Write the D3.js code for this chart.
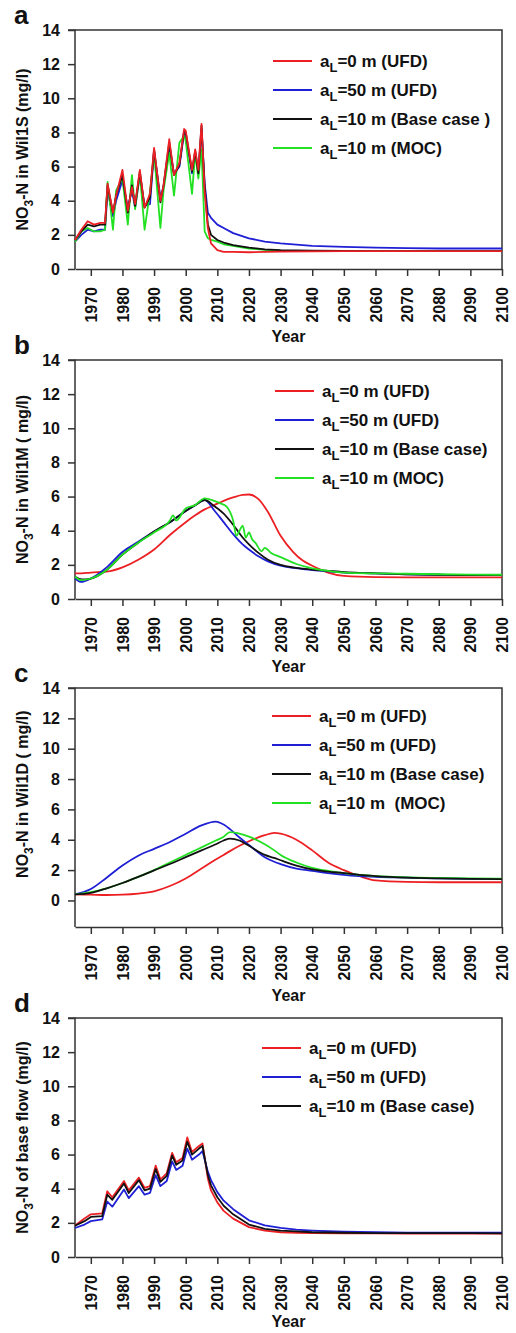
<!DOCTYPE html>
<html>
<head>
<meta charset="utf-8">
<script src="https://cdn.jsdelivr.net/npm/d3@7"></script>
<style>
  body { margin: 0; background: #fff; }
  svg { display: block; }
  text { font-family: "Liberation Sans", Arial, sans-serif; font-weight: bold; fill: #111; }
</style>
</head>
<body>
<div id="chart"></div>
<script>
const width = 516;
const height = 1333;

const xTicks = d3.range(1970, 2101, 10);
const yTicks = d3.range(0, 15, 2);

// panel a - Wil1S
const yearsA = [1965, 1967, 1969, 1971, 1973, 1974.5, 1975.3, 1977, 1978, 1980, 1981.7, 1983, 1984, 1985.5, 1987, 1988.7, 1990, 1992, 1993, 1994.8, 1996.3, 1998, 1999.5, 2000, 2002, 2003, 2004, 2005, 2006, 2007, 2008, 2010, 2012, 2015, 2020, 2025, 2030, 2040, 2050, 2060, 2070, 2080, 2090, 2100];
const redA   = [1.7, 2.3, 2.8, 2.6, 2.7, 2.7, 5.0, 3.3, 4.3, 5.8, 3.4, 4.8, 3.8, 5.8, 3.6, 4.4, 7.1, 4.0, 4.9, 7.6, 5.5, 6.2, 8.2, 8.1, 5.8, 7.0, 5.8, 8.5, 4.5, 2.4, 1.5, 1.1, 1.0, 1.0, 0.98, 1.0, 1.02, 1.03, 1.05, 1.05, 1.05, 1.05, 1.05, 1.05];
const blueA  = [1.6, 2.0, 2.3, 2.2, 2.3, 2.3, 4.6, 3.1, 4.0, 5.2, 3.6, 4.6, 3.6, 5.5, 3.7, 3.8, 6.9, 4.2, 4.8, 7.2, 5.6, 6.0, 8.0, 7.9, 5.6, 6.8, 5.6, 8.2, 5.0, 3.3, 3.0, 2.6, 2.4, 2.1, 1.8, 1.6, 1.5, 1.35, 1.3, 1.25, 1.22, 1.2, 1.2, 1.2];
const blackA = [1.7, 2.2, 2.6, 2.5, 2.6, 2.6, 4.9, 3.3, 4.3, 5.5, 3.3, 4.9, 3.7, 5.7, 3.6, 4.2, 7.0, 3.9, 4.9, 7.4, 5.5, 6.1, 8.1, 8.0, 5.7, 6.9, 5.6, 8.4, 4.8, 2.6, 2.0, 1.7, 1.55, 1.4, 1.25, 1.15, 1.1, 1.07, 1.06, 1.05, 1.05, 1.05, 1.05, 1.05];
const greenA = [1.6, 2.2, 2.4, 2.2, 2.2, 2.3, 5.1, 2.3, 4.6, 5.3, 2.6, 5.5, 3.5, 5.6, 2.3, 4.5, 6.8, 2.4, 4.6, 6.8, 4.3, 7.4, 7.8, 7.5, 4.4, 6.8, 5.3, 7.0, 2.2, 1.8, 1.7, 1.6, 1.45, 1.35, 1.2, 1.12, 1.08, 1.05, 1.05, 1.05, 1.05, 1.05, 1.05, 1.05];

// panel b - Wil1M
const yearsB = [1965, 1967, 1970, 1975, 1980, 1985, 1990, 1995, 2000, 2003, 2006, 2009, 2012, 2015, 2018, 2020, 2023, 2026, 2030, 2034, 2037, 2040, 2045, 2050, 2060, 2070, 2080, 2090, 2100];
const redB   = [1.5, 1.5, 1.55, 1.6, 1.85, 2.3, 2.9, 3.75, 4.5, 4.9, 5.25, 5.5, 5.75, 5.95, 6.1, 6.12, 5.85, 5.1, 3.7, 2.75, 2.25, 1.95, 1.55, 1.35, 1.28, 1.27, 1.27, 1.27, 1.27];
const blueB  = [1.2, 1.0, 1.2, 1.85, 2.75, 3.35, 3.95, 4.5, 5.15, 5.5, 5.8, 5.2, 4.5, 3.8, 3.2, 2.9, 2.5, 2.2, 1.95, 1.82, 1.75, 1.7, 1.62, 1.55, 1.5, 1.45, 1.42, 1.4, 1.4];
const blackB = [1.3, 1.15, 1.2, 1.7, 2.6, 3.3, 3.95, 4.5, 5.15, 5.5, 5.8, 5.45, 5.0, 4.35, 3.6, 3.2, 2.7, 2.3, 2.0, 1.85, 1.78, 1.72, 1.65, 1.58, 1.5, 1.45, 1.42, 1.4, 1.4];
const greenYearsB = [1965, 1967, 1970, 1975, 1980, 1985, 1990, 1995, 1996, 1997, 2000, 2003, 2006, 2009, 2011, 2013, 2014, 2015, 2016, 2017, 2018, 2019, 2020, 2021, 2022, 2024, 2025, 2027, 2030, 2035, 2040, 2045, 2050, 2060, 2070, 2080, 2090, 2100];
const greenB = [1.3, 1.1, 1.2, 1.7, 2.6, 3.3, 3.9, 4.6, 4.9, 4.6, 5.3, 5.5, 5.9, 5.75, 5.6, 5.4, 5.1, 4.6, 3.7, 4.0, 4.3, 3.6, 3.9, 3.5, 3.3, 2.8, 3.0, 2.7, 2.45, 2.05, 1.8, 1.65, 1.55, 1.5, 1.48, 1.45, 1.43, 1.42];

// panel c - Wil1D
const yearsC = [1965, 1970, 1975, 1980, 1985, 1990, 1995, 2000, 2005, 2009.5, 2012, 2014, 2017, 2020, 2025, 2028, 2030, 2035, 2040, 2045, 2050, 2055, 2060, 2070, 2080, 2090, 2100];
const redC   = [0.4, 0.38, 0.36, 0.38, 0.45, 0.6, 0.95, 1.45, 2.1, 2.7, 3.0, 3.25, 3.6, 3.9, 4.3, 4.45, 4.4, 4.0, 3.3, 2.5, 2.0, 1.6, 1.32, 1.22, 1.2, 1.2, 1.2];
const blueC  = [0.4, 0.75, 1.5, 2.3, 2.95, 3.4, 3.85, 4.4, 4.95, 5.2, 5.0, 4.7, 4.15, 3.65, 2.85, 2.55, 2.4, 2.1, 1.95, 1.8, 1.68, 1.6, 1.55, 1.5, 1.45, 1.42, 1.4];
const blackC = [0.4, 0.5, 0.8, 1.15, 1.55, 1.98, 2.4, 2.85, 3.3, 3.7, 3.95, 4.08, 3.95, 3.6, 3.0, 2.8, 2.65, 2.3, 2.05, 1.9, 1.8, 1.68, 1.6, 1.5, 1.45, 1.42, 1.4];
const greenC = [0.4, 0.55, 0.8, 1.15, 1.55, 2.0, 2.5, 3.0, 3.5, 3.95, 4.2, 4.5, 4.4, 4.2, 3.7, 3.3, 3.0, 2.5, 2.15, 1.95, 1.8, 1.68, 1.6, 1.52, 1.48, 1.45, 1.43];

// panel d - base flow
const yearsD = [1965, 1968, 1970, 1973.6, 1975.2, 1976.8, 1980.5, 1982, 1985.2, 1987, 1988.7, 1990.5, 1992, 1994, 1995.7, 1997, 1999, 2000.5, 2002, 2004.2, 2005.3, 2007, 2008, 2010, 2012, 2015, 2020, 2025, 2030, 2035, 2040, 2050, 2060, 2070, 2080, 2090, 2100];
const redD   = [1.85, 2.25, 2.5, 2.55, 3.85, 3.5, 4.45, 3.9, 4.65, 4.05, 4.15, 5.35, 4.55, 4.9, 6.1, 5.55, 5.8, 7.0, 6.15, 6.5, 6.65, 4.6, 3.9, 3.2, 2.7, 2.25, 1.75, 1.55, 1.45, 1.42, 1.4, 1.38, 1.38, 1.37, 1.37, 1.37, 1.37];
const blueD  = [1.7, 1.9, 2.1, 2.2, 3.25, 2.95, 3.95, 3.45, 4.15, 3.65, 3.75, 4.8, 4.15, 4.45, 5.6, 5.1, 5.35, 6.35, 5.7, 6.0, 6.2, 5.0, 4.5, 3.8, 3.3, 2.8, 2.15, 1.85, 1.7, 1.6, 1.55, 1.48, 1.45, 1.43, 1.42, 1.42, 1.42];
const blackD = [1.83, 2.1, 2.35, 2.4, 3.65, 3.35, 4.3, 3.75, 4.5, 3.9, 4.0, 5.15, 4.4, 4.75, 5.95, 5.4, 5.65, 6.75, 6.0, 6.35, 6.5, 4.8, 4.2, 3.5, 3.0, 2.5, 1.9, 1.65, 1.55, 1.5, 1.45, 1.42, 1.4, 1.4, 1.4, 1.4, 1.38];

const colors = { red: "#ec2024", blue: "#1f1fd6", black: "#111111", green: "#22e022" };

const panels = [
  { letter: "a", label: "in Wil1S (mg/l)", top: 30, yMin: 0, legendX: 273, legendTop: 31, yearGap: 73, curve: d3.curveLinear,
    series: [
      { name: "=0 m (UFD)", color: colors.red, years: yearsA, values: redA },
      { name: "=50 m (UFD)", color: colors.blue, years: yearsA, values: blueA },
      { name: "=10 m (Base case )", color: colors.black, years: yearsA, values: blackA },
      { name: "=10 m (MOC)", color: colors.green, years: yearsA, values: greenA }
    ], order: [1, 3, 2, 0] },
  { letter: "b", label: "in Wil1M ( mg/l)", top: 360, yMin: 0, legendX: 275, legendTop: 31, yearGap: 73, curve: d3.curveMonotoneX,
    series: [
      { name: "=0 m (UFD)", color: colors.red, years: yearsB, values: redB },
      { name: "=50 m (UFD)", color: colors.blue, years: yearsB, values: blueB },
      { name: "=10 m (Base case)", color: colors.black, years: yearsB, values: blackB },
      { name: "=10 m (MOC)", color: colors.green, years: greenYearsB, values: greenB }
    ], order: [0, 1, 2, 3] },
  { letter: "c", label: "in Wil1D ( mg/l)", top: 688, yMin: -1.75, legendX: 272, legendTop: 28, yearGap: 74, curve: d3.curveMonotoneX,
    series: [
      { name: "=0 m (UFD)", color: colors.red, years: yearsC, values: redC },
      { name: "=50 m (UFD)", color: colors.blue, years: yearsC, values: blueC },
      { name: "=10 m (Base case)", color: colors.black, years: yearsC, values: blackC },
      { name: "=10 m \u00a0(MOC)", color: colors.green, years: yearsC, values: greenC }
    ], order: [0, 1, 3, 2] },
  { letter: "d", label: "of base flow (mg/l)", top: 1018, yMin: 0, legendX: 262, legendTop: 30, yearGap: 70, curve: d3.curveLinear,
    series: [
      { name: "=0 m (UFD)", color: colors.red, years: yearsD, values: redD },
      { name: "=50 m (UFD)", color: colors.blue, years: yearsD, values: blueD },
      { name: "=10 m (Base case)", color: colors.black, years: yearsD, values: blackD }
    ], order: [0, 1, 2] }
];

const left = 75;
const right = 502;
const plotHeight = 239;

const svg = d3.select("#chart")
  .append("svg")
  .attr("width", width)
  .attr("height", height);

const x = d3.scaleLinear()
  .domain([1965, 2100])
  .range([left, right]);

panels.forEach(p => {
  const y = d3.scaleLinear()
    .domain([p.yMin, 14])
    .range([p.top + plotHeight, p.top]);

  const g = svg.append("g");
  const bottom = p.top + plotHeight;

  // panel letter
  g.append("text")
    .attr("x", 14)
    .attr("y", p.top - 6)
    .style("font-size", "26px")
    .text(p.letter);

  // frame (top and right)
  g.append("path")
    .attr("d", `M${left},${p.top}H${right}V${bottom}`)
    .attr("fill", "none")
    .attr("stroke", "#333")
    .attr("stroke-width", 1.5);

  const yAxis = g.append("g")
    .attr("transform", `translate(${left},0)`)
    .call(d3.axisLeft(y).tickValues(yTicks).tickSize(7).tickPadding(8).tickFormat(d3.format("d")));

  const xAxis = g.append("g")
    .attr("transform", `translate(0,${bottom})`)
    .call(d3.axisBottom(x).tickValues(xTicks).tickSize(7).tickSizeOuter(0).tickFormat(d3.format("d")));

  [yAxis, xAxis].forEach(a => {
    a.select(".domain").attr("stroke", "#333").attr("stroke-width", 1.5);
    a.selectAll(".tick line").attr("stroke", "#333").attr("stroke-width", 1.5);
    a.selectAll("text").style("font-size", "16px").attr("fill", "#111");
  });
  yAxis.select(".domain").attr("d", `M-7,${y(14)}H0V${bottom}`);

  xAxis.selectAll("text")
    .attr("transform", "rotate(-90)")
    .attr("x", -18)
    .attr("y", 0)
    .attr("dy", "0.35em")
    .style("text-anchor", "end");

  g.append("text")
    .attr("x", (left + right) / 2)
    .attr("y", bottom + p.yearGap)
    .attr("text-anchor", "middle")
    .style("font-size", "16px")
    .text("Year");

  // y label with subscript
  const yl = g.append("text")
    .attr("transform", `translate(28,${y(7)}) rotate(-90)`)
    .attr("text-anchor", "middle")
    .style("font-size", "16px");
  yl.append("tspan").text("NO");
  yl.append("tspan").attr("dy", 5).style("font-size", "12px").text("3");
  yl.append("tspan").attr("dy", -5).text("-N " + p.label);

  // lines
  const line = d3.line()
    .x(d => x(d[0]))
    .y(d => y(d[1]))
    .curve(p.curve);

  p.order.forEach(i => {
    const s = p.series[i];
    g.append("path")
      .datum(s.years.map((yr, k) => [yr, s.values[k]]))
      .attr("fill", "none")
      .attr("stroke", s.color)
      .attr("stroke-width", 1.8)
      .attr("stroke-linejoin", "round")
      .attr("d", line);
  });

  // legend
  p.series.forEach((s, i) => {
    const ly = p.top + p.legendTop + i * 29;
    g.append("line")
      .attr("x1", p.legendX)
      .attr("x2", p.legendX + 39)
      .attr("y1", ly)
      .attr("y2", ly)
      .attr("stroke", s.color)
      .attr("stroke-width", 1.8);
    const t = g.append("text")
      .attr("x", p.legendX + 47)
      .attr("y", ly + 6)
      .style("font-size", "17px")
      .attr("xml:space", "preserve");
    t.append("tspan").text("a");
    t.append("tspan").attr("dy", 5).style("font-size", "13px").text("L");
    t.append("tspan").attr("dy", -5).text(s.name);
  });
});
</script>
</body>
</html>
